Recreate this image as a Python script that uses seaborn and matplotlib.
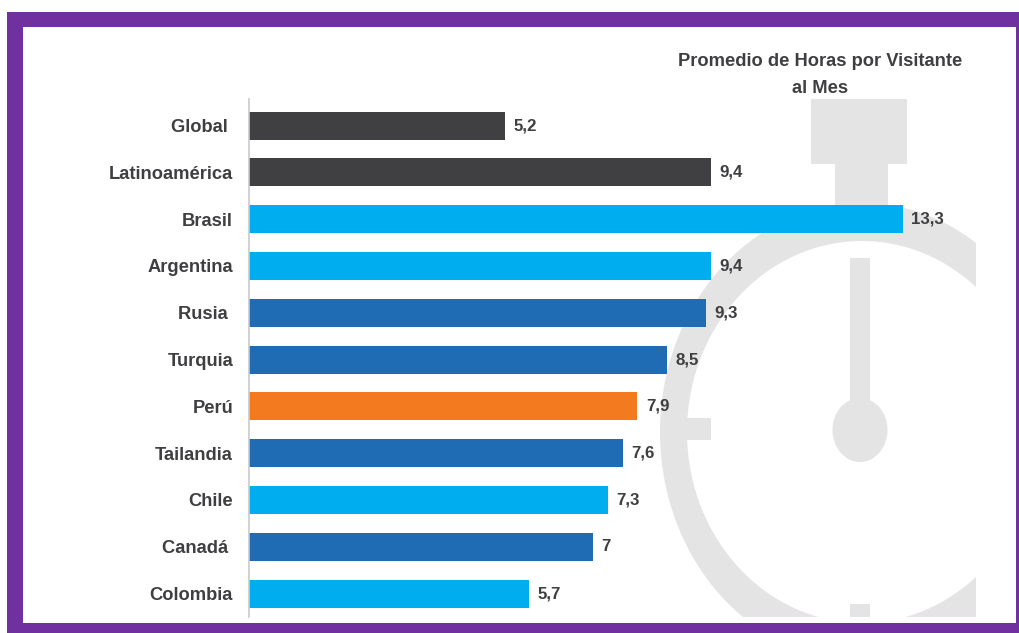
import matplotlib
matplotlib.use("Agg")
import matplotlib.pyplot as plt
from matplotlib.patches import Ellipse, Rectangle, PathPatch
from matplotlib.path import Path
import numpy as np
import pandas as pd
import seaborn as sns

# Average monthly hours per visitor
categories = ["Global ", "Latinoamérica", "Brasil", "Argentina", "Rusia ", "Turquia",
              "Perú", "Tailandia", "Chile", "Canadá ", "Colombia"]
hours = [5.2, 9.4, 13.3, 9.4, 9.3, 8.5, 7.9, 7.6, 7.3, 7, 5.7]
groups = ["ref", "ref", "latam", "latam", "other", "other", "peru", "other", "latam", "other", "latam"]
group_colors = {"ref": "#404042", "latam": "#00AEEF", "other": "#1F6CB5", "peru": "#F47A1F"}
title_text = "Promedio de Horas por Visitante\nal Mes"

WIDTH, HEIGHT = 1020, 633
TEXT = "#3F3F42"
WATCH = "#E4E4E4"
PURPLE = "#7030A0"

sns.set_theme(style="white")
plt.rcParams["font.family"] = ["Liberation Sans", "DejaVu Sans"]

fig = plt.figure(figsize=(WIDTH / 100, HEIGHT / 100), dpi=100, facecolor="white")

# Backdrop layer in pixel units: purple frame and the stopwatch watermark
bg = fig.add_axes([0, 0, 1, 1], zorder=0)
bg.set_xlim(0, WIDTH)
bg.set_ylim(HEIGHT, 0)
bg.axis("off")
bg.add_patch(Rectangle((7, 12), WIDTH - 7, HEIGHT - 12, fc=PURPLE, ec="none"))
bg.add_patch(Rectangle((23, 27), 993, 596, fc="white", ec="none"))

clip = Rectangle((600, 90), 376, 527, transform=bg.transData)
cx, cy = 862, 432
outer_w, outer_h = 404, 458
inner_w, inner_h = 350, 382
theta = np.linspace(0, 2 * np.pi, 240)
ring = np.concatenate([
    np.c_[cx + outer_w / 2 * np.cos(theta), cy + outer_h / 2 * np.sin(theta)],
    np.c_[cx + inner_w / 2 * np.cos(theta[::-1]), cy + inner_h / 2 * np.sin(theta[::-1])],
])
codes = [Path.MOVETO] + [Path.LINETO] * 239 + [Path.MOVETO] + [Path.LINETO] * 239
parts = [
    PathPatch(Path(ring, codes), fc=WATCH, ec="none"),
    Rectangle((811, 99), 96, 65, fc=WATCH, ec="none"),
    Rectangle((835, 164), 53, 42, fc=WATCH, ec="none"),
    Rectangle((850, 258), 20, 145, fc=WATCH, ec="none"),
    Ellipse((860, 430), 55, 64, fc=WATCH, ec="none"),
    Rectangle((687, 418), 24, 22, fc=WATCH, ec="none"),
    Rectangle((850, 604), 20, 13, fc=WATCH, ec="none"),
]
for part in parts:
    bg.add_patch(part)
    part.set_clip_path(clip)

# Bars sit on a transparent axes laid over the backdrop
left, right, top, bottom = 249, 976, 99, 617
ax = fig.add_axes([left / WIDTH, 1 - bottom / HEIGHT, (right - left) / WIDTH, (bottom - top) / HEIGHT],
                  zorder=1)
ax.patch.set_alpha(0)

df = pd.DataFrame({"pais": categories, "horas": hours, "grupo": groups})
sns.barplot(data=df, y="pais", x="horas", hue="grupo", palette=group_colors, dodge=False,
            width=0.6, legend=False, ax=ax, saturation=1, order=categories, linewidth=0)

ax.set_xlim(0, (right - left) / 49.15)
ax.set_ylim((bottom - 125.6) / 46.8, (top - 125.6) / 46.8)
ax.set_xlabel("")
ax.set_ylabel("")
ax.set_xticks([])
ax.tick_params(axis="y", length=0, pad=11.5, labelsize=13.2, labelcolor=TEXT)
for label in ax.get_yticklabels():
    label.set_fontweight("bold")
for side in ["top", "right", "bottom"]:
    ax.spines[side].set_visible(False)
ax.spines["left"].set_color("#C9C9C9")
ax.spines["left"].set_linewidth(1.2)

for name, value in zip(categories, hours):
    ax.annotate(f"{value:g}".replace(".", ","), (value, categories.index(name)),
                xytext=(8.5, 0), textcoords="offset pixels", va="center", ha="left",
                fontsize=12.2, fontweight="bold", color=TEXT)

bg.text(820, 75, title_text, ha="center", va="center", fontsize=13.2, fontweight="bold",
        color=TEXT, linespacing=1.7)

fig.savefig("out.png", dpi=100)
